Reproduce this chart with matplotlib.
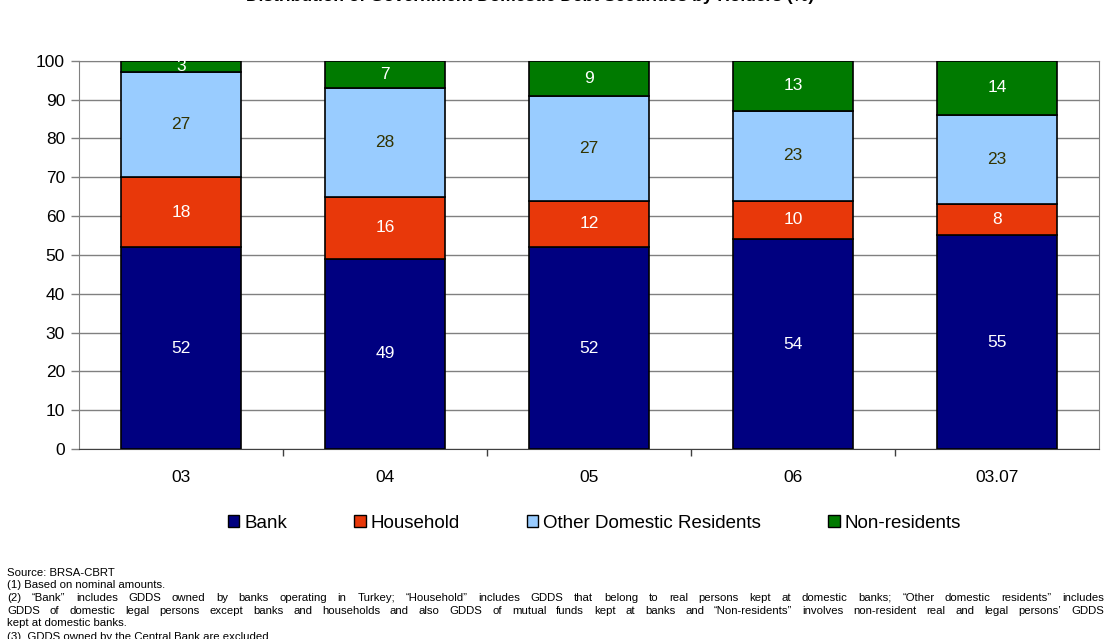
import matplotlib
matplotlib.use('Agg')
from matplotlib import pyplot as plt
from matplotlib.patches import Patch
import numpy as np

plt.rcParams['font.family'] = ['Liberation Sans', 'DejaVu Sans']

periods = ["03", "04", "05", "06", "03.07"]
bank = [52, 49, 52, 54, 55]
household = [18, 16, 12, 10, 8]
other_domestic = [27, 28, 27, 23, 23]
non_residents = [3, 7, 9, 13, 14]

series = [("Bank", bank, "#000080", "white"),
          ("Household", household, "#E8380A", "white"),
          ("Other Domestic Residents", other_domestic, "#99CCFF", "#333300"),
          ("Non-residents", non_residents, "#007A00", "white")]

fs_main = 12.5

fig = plt.figure(figsize=(11.11, 6.39), dpi=100)
ax = fig.add_axes([0.0711, 0.2973, 0.9181, 0.6077])

x = np.arange(len(periods))
bottom = np.zeros(len(periods))
for name, vals, col, tcol in series:
    vals = np.array(vals, dtype=float)
    ax.bar(x, vals, 0.59, bottom=bottom, color=col, edgecolor="black",
           linewidth=1.2, zorder=3, label=name)
    for xi, b, v in zip(x, bottom, vals):
        ax.text(xi, b + v / 2, "%d" % v, ha="center", va="center",
                color=tcol, fontsize=fs_main, zorder=4)
    bottom += vals

ax.set_xlim(-0.5, len(periods) - 0.5)
ax.set_ylim(0, 100)
ax.set_yticks(range(0, 101, 10))
ax.yaxis.grid(True, color="#808080", linewidth=1, zorder=0)
ax.tick_params(axis="y", direction="out", length=6, width=1, color="#808080",
               pad=4, labelsize=fs_main)

# category labels in the middle, tick marks between categories
ax.set_xticks(x)
ax.set_xticklabels(periods)
ax.tick_params(axis="x", which="major", length=0, pad=15, labelsize=fs_main)
ax.set_xticks(np.arange(0.5, len(periods) - 0.5), minor=True)
ax.tick_params(axis="x", which="minor", direction="out", length=5, width=1,
               color="#404040")
for s in ["left", "right", "top"]:
    ax.spines[s].set_color("#808080")
ax.spines["bottom"].set_color("#404040")

handles = [Patch(facecolor=c, edgecolor="black", linewidth=1, label=n)
           for n, _, c, _ in series]
fig.legend(handles=handles, loc="center", bbox_to_anchor=(0.535, 0.181), ncol=4,
           frameon=False, fontsize=13.5, handlelength=0.6, handleheight=0.6,
           handletextpad=0.25, columnspacing=3.6)

fig.text(0.477, 1.006, "Distribution of Government Domestic Debt Securities by Holders (%)",
         ha="center", va="center", fontsize=12.5, fontweight="bold")

# footnotes
fs = 8.2
left_px, right_px = 7, 1104
W, H = fig.get_size_inches() * fig.dpi


def note(text, ypx, justify=False):
    if not justify:
        fig.text(left_px / W, 1 - ypx / H, text, ha="left", va="center", fontsize=fs)
        return
    renderer = fig.canvas.get_renderer()
    words = text.split()
    objs = [fig.text(0, 1 - ypx / H, w, ha="left", va="center", fontsize=fs) for w in words]
    widths = [o.get_window_extent(renderer).width for o in objs]
    gap = (right_px - left_px - sum(widths)) / (len(words) - 1)
    pos = left_px
    for o, w in zip(objs, widths):
        o.set_x(pos / W)
        pos += w + gap


note("Source: BRSA-CBRT", 573)
note("(1) Based on nominal amounts.", 585.5)
note("(2) \u201cBank\u201d includes GDDS owned by banks operating in Turkey; \u201cHousehold\u201d includes "
     "GDDS that belong to real persons kept at domestic banks; \u201cOther domestic residents\u201d includes",
     598, justify=True)
note("GDDS of domestic legal persons except banks and households and also GDDS of mutual funds kept "
     "at banks and \u201cNon-residents\u201d involves non-resident real and legal persons\u2019 GDDS",
     611, justify=True)
note("kept at domestic banks.", 623)
note("(3)  GDDS owned by the Central Bank are excluded.", 637)

fig.savefig("out.png", dpi=100)
